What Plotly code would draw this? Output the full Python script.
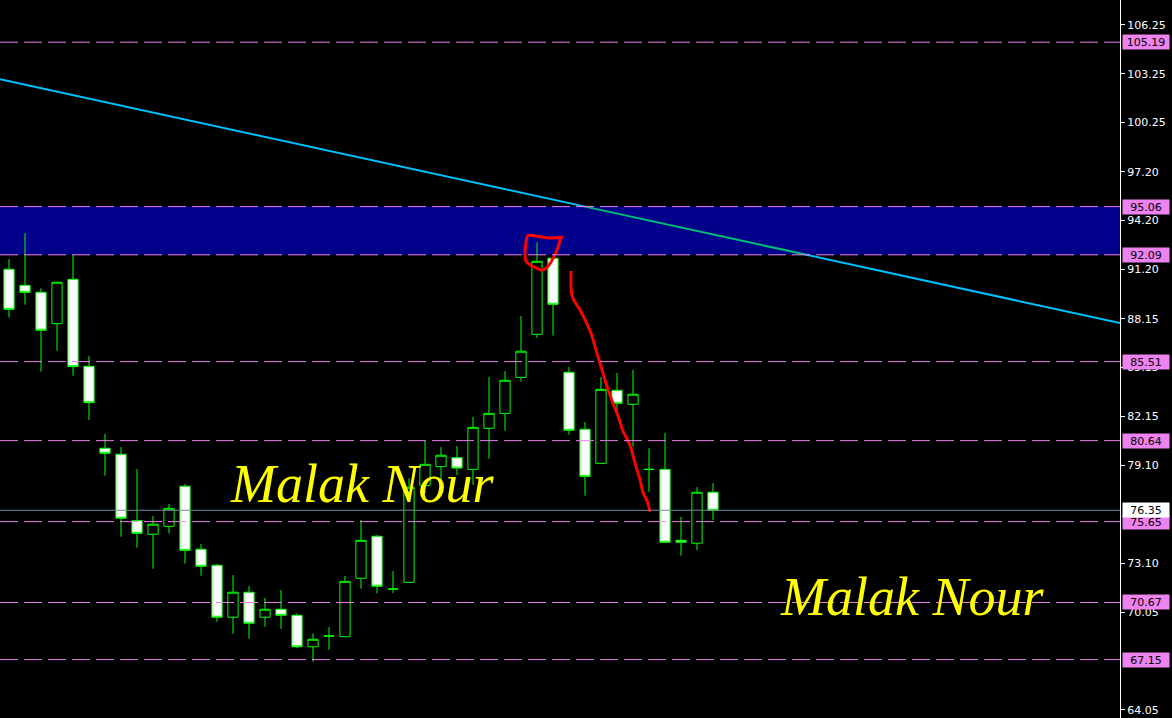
import plotly.graph_objects as go

# ---------------- data ----------------
open_ = [91.20, 90.21, 89.78, 87.85, 90.58, 85.22, 80.17, 79.80, 75.71, 74.87,
         75.36, 77.83, 73.95, 72.96, 69.76, 71.30, 69.76, 70.25, 69.88, 67.94,
         68.60, 68.56, 72.16, 74.75, 71.50, 71.91, 77.86, 79.04, 79.59, 78.87,
         81.40, 82.32, 84.54, 87.19, 91.88, 84.85, 81.34, 79.24, 83.74, 82.88,
         78.87, 78.87, 74.50, 74.32, 77.46]
high = [91.83, 93.42, 90.03, 90.40, 92.08, 85.86, 81.05, 80.25, 78.89, 76.00,
        76.74, 77.97, 74.27, 73.04, 72.36, 71.68, 70.95, 71.44, 70.00, 68.75,
        69.16, 72.30, 75.75, 74.83, 72.61, 78.32, 80.64, 80.25, 80.31, 82.10,
        84.56, 84.93, 88.32, 92.86, 91.95, 85.18, 81.79, 84.56, 84.81, 84.99,
        80.17, 81.11, 75.94, 77.78, 78.03]
low = [88.22, 89.02, 84.89, 86.18, 84.64, 81.91, 78.48, 74.72, 74.04, 72.75,
       74.91, 73.06, 72.32, 69.48, 68.75, 68.44, 69.18, 69.05, 67.85, 67.02,
       67.76, 68.56, 71.52, 71.23, 71.25, 71.91, 77.40, 77.80, 78.52, 77.91,
       79.53, 81.25, 84.27, 86.98, 87.11, 81.01, 77.25, 79.24, 82.41, 80.27,
       77.49, 74.38, 73.55, 73.90, 75.75]
close = [88.73, 89.78, 87.44, 90.40, 85.20, 82.98, 79.86, 75.86, 74.93, 75.49,
         76.47, 73.88, 72.90, 69.76, 71.30, 69.39, 70.25, 69.88, 67.94, 68.40,
         68.60, 71.97, 74.50, 71.67, 71.50, 77.77, 79.18, 79.74, 78.95, 81.46,
         82.32, 84.36, 86.15, 91.69, 89.04, 81.28, 78.44, 83.80, 82.94, 83.50,
         78.87, 74.38, 74.38, 77.46, 76.35]
bars = list(range(len(close)))

levels = [105.19, 95.06, 92.09, 85.51, 80.64, 75.65, 70.67, 67.15]
zone = [92.09, 95.06]
bid = 76.35

tick_vals = [106.25, 103.25, 100.25, 97.20, 94.20, 91.20, 88.15, 85.15,
             82.15, 79.10, 73.10, 70.05, 64.05]
tick_text = ["%.2f" % v for v in tick_vals]

# trend line anchors (bar index, price)
trend_x = [0, 60]
trend_y = [102.79, 89.91]

# hand-drawn red marks (bar index, price)
curve_x = [35.13, 35.21, 35.69, 36.11, 36.42, 36.63, 36.94, 37.25, 37.67, 38.08,
           38.39, 38.81, 39.13, 39.44, 39.64, 39.86, 40.06]
curve_y = [91.09, 89.51, 88.69, 87.87, 87.15, 86.43, 85.41, 84.38, 83.14, 82.12,
           81.19, 80.37, 79.24, 78.22, 77.40, 76.98, 76.26]
loop_x = [34.63, 33.69, 32.88, 32.44, 32.31, 32.25, 32.31, 32.63, 32.94, 33.31,
          33.63, 33.88, 34.19, 34.38, 34.50]
loop_y = [93.19, 93.13, 93.25, 93.28, 92.82, 92.26, 91.71, 91.43, 91.28, 91.15,
          91.31, 91.65, 92.26, 92.76, 93.19]

watermark = "Malak Nour"

# ---------------- figure ----------------
X_RANGE = [-0.5625, 69.4375]
Y_RANGE = [63.551, 107.790]
VIOLET = "#EE82EE"

fig = go.Figure()

fig.add_trace(go.Candlestick(
    x=bars, open=open_, high=high, low=low, close=close,
    increasing=dict(line=dict(color="#00FF00", width=1), fillcolor="#000000"),
    decreasing=dict(line=dict(color="#00FF00", width=1), fillcolor="#FFFFFF"),
    whiskerwidth=0, hoverinfo="skip",
))

# trend line (ray) split where it crosses the blue zone
slope = (trend_y[1] - trend_y[0]) / (trend_x[1] - trend_x[0])
def ty(x):
    return trend_y[0] + slope * (x - trend_x[0])
def tx(y):
    return trend_x[0] + (y - trend_y[0]) / slope
xa, xb = X_RANGE
x_top = tx(zone[1])
x_bot = tx(zone[0])
fig.add_trace(go.Scatter(x=[xa, x_top], y=[ty(xa), zone[1]], mode="lines",
                         line=dict(color="#00BFFF", width=2), hoverinfo="skip"))
fig.add_trace(go.Scatter(x=[x_top, x_bot], y=[zone[1], zone[0]], mode="lines",
                         line=dict(color="#00BF74", width=2), hoverinfo="skip"))
fig.add_trace(go.Scatter(x=[x_bot, xb], y=[zone[0], ty(xb)], mode="lines",
                         line=dict(color="#00BFFF", width=2), hoverinfo="skip"))

# hand-drawn red marks
fig.add_trace(go.Scatter(x=curve_x, y=curve_y, mode="lines",
                         line=dict(color="#FF0000", width=3, shape="spline"),
                         hoverinfo="skip"))
fig.add_trace(go.Scatter(x=loop_x, y=loop_y, mode="lines",
                         line=dict(color="#FF0000", width=3, shape="spline"),
                         hoverinfo="skip"))

shapes = [dict(type="rect", xref="paper", x0=0, x1=1, yref="y",
               y0=zone[0], y1=zone[1], fillcolor="#00008B",
               line=dict(width=0), layer="below")]
for lv in levels:
    shapes.append(dict(type="line", xref="paper", x0=0, x1=1, yref="y",
                       y0=lv, y1=lv, line=dict(color=VIOLET, width=1, dash="18px,6px"),
                       layer="above"))
shapes.append(dict(type="line", xref="paper", x0=0, x1=1, yref="y",
                   y0=bid, y1=bid, line=dict(color="#778899", width=1),
                   layer="above"))

annotations = []
for lv in levels:
    annotations.append(dict(text="%.2f" % lv, xref="paper", x=1, xanchor="left",
                            xshift=2, yref="y", y=lv, yanchor="middle",
                            showarrow=False, bgcolor=VIOLET, borderpad=1,
                            width=44, height=12, align="center",
                            font=dict(family="DejaVu Sans", size=11, color="#000000")))
annotations.append(dict(text="%.2f" % bid, xref="paper", x=1, xanchor="left",
                        xshift=2, yref="y", y=bid, yanchor="middle",
                        showarrow=False, bgcolor="#FFFFFF", borderpad=1,
                        width=44, height=12, align="center",
                        font=dict(family="DejaVu Sans", size=11, color="#000000")))
for px, py in [(0.3228, 0.326), (0.814, 0.1685)]:
    annotations.append(dict(text=watermark, xref="paper", yref="paper", x=px, y=py,
                            xanchor="center", yanchor="middle", showarrow=False,
                            font=dict(family="Liberation Serif", size=54,
                                      color="#FFFF00", style="italic")))

fig.update_layout(
    width=1172, height=718, autosize=False,
    margin=dict(l=0, r=52, t=0, b=0, pad=0),
    paper_bgcolor="#000000", plot_bgcolor="#000000",
    showlegend=False, boxgap=0.36, boxgroupgap=0,
    xaxis=dict(range=X_RANGE, visible=False, showgrid=False, zeroline=False,
               rangeslider=dict(visible=False)),
    yaxis=dict(side="right", range=Y_RANGE, tickmode="array",
               tickvals=tick_vals, ticktext=tick_text, ticks="outside",
               ticklen=4, tickcolor="#FFFFFF", showline=True,
               linecolor="#FFFFFF", linewidth=1, showgrid=False, zeroline=False,
               tickfont=dict(family="DejaVu Sans", size=11, color="#FFFFFF")),
    shapes=shapes, annotations=annotations,
)

fig.write_html("out.html", config={"displayModeBar": False},
               post_script="document.body.style.margin='0';document.body.style.overflow='hidden';")
